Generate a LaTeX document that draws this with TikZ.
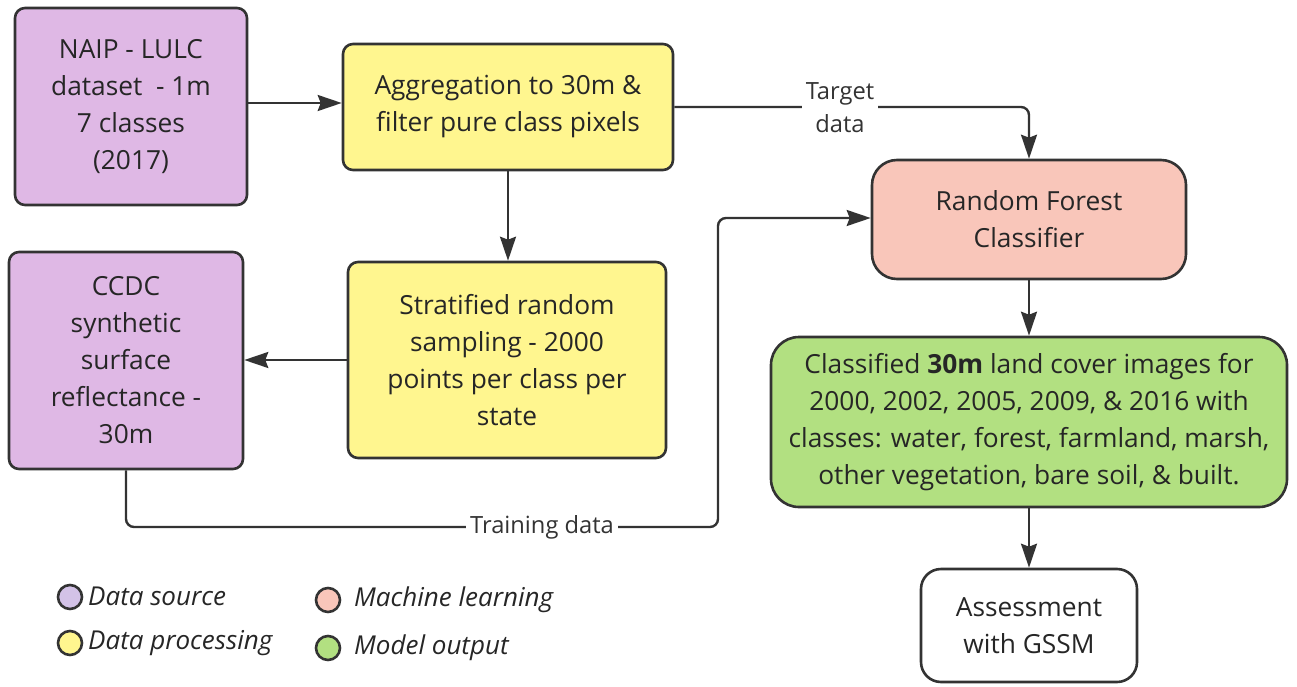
\documentclass[tikz,border=0pt]{standalone}
\usepackage{fontspec}
\setmainfont{Open Sans}
\usetikzlibrary{arrows.meta}
\definecolor{cpurple}{HTML}{DFB8E5}
\definecolor{cyellow}{HTML}{FFF68F}
\definecolor{cpink}{HTML}{F9C6BA}
\definecolor{cgreen}{HTML}{B2E081}
\definecolor{lpurple}{HTML}{D3C2E7}
\definecolor{cline}{HTML}{333333}
\begin{document}
\begin{tikzpicture}[x=1pt,y=-1pt,
  box/.style={draw=cline,line width=2.6pt,align=center,inner sep=0pt,
    font=\fontsize{26.3}{37}\selectfont,text=black!85},
  conn/.style={draw=cline,line width=2.4pt,rounded corners=8pt},
  arr/.style={conn,-{Stealth[length=24pt,width=16pt,inset=3pt]}},
  lbl/.style={fill=white,inner sep=4pt,align=center,font=\fontsize{23.7}{33}\selectfont,text=black!80},
  legdot/.style={circle,draw=cline,line width=2.6pt,minimum size=24pt,inner sep=0pt},
  legtxt/.style={anchor=west,inner sep=0pt,font=\fontsize{26}{30}\selectfont\itshape,text=black!85}]
\useasboundingbox (0,0) rectangle (1297,687);
% boxes
\node[box,fill=cpurple,rounded corners=10pt,minimum width=232pt,minimum height=197pt] (naip) at (131,106.5)
  {NAIP - LULC\\dataset \ - 1m\\7 classes\\(2017)};
\node[box,fill=cyellow,rounded corners=10pt,minimum width=330pt,minimum height=126pt] (agg) at (508,107)
  {Aggregation to 30m \&\\filter pure class pixels};
\node[box,fill=cpink,rounded corners=25pt,minimum width=314pt,minimum height=119pt] (rf) at (1029,219.5)
  {Random Forest\\Classifier};
\node[box,fill=cpurple,rounded corners=10pt,minimum width=234pt,minimum height=217pt] (ccdc) at (126,360.5)
  {CCDC\\synthetic\\surface\\reflectance -\\30m};
\node[box,fill=cyellow,rounded corners=10pt,minimum width=318pt,minimum height=196pt] (strat) at (507,360)
  {Stratified random\\sampling - 2000\\points per class per\\state};
\node[box,fill=cgreen,rounded corners=28pt,minimum width=516pt,minimum height=170pt] (out) at (1029,422)
  {Classified \textbf{30m} land cover images for\\2000, 2002, 2005, 2009, \& 2016 with\\classes: water, forest, farmland, marsh,\\other vegetation, bare soil, \& built.};
\node[box,fill=white,rounded corners=20pt,minimum width=216pt,minimum height=113pt] (gssm) at (1029,625.5)
  {Assessment\\with GSSM};
% connectors
\draw[arr] (naip.east |- 0,103) -- (agg.west |- 0,103);
\draw[arr] (agg.south) -- (strat.north -| agg.south);
\coordinate (tcorner) at (rf.north |- agg.east);
\draw[arr] (agg.east) -- (tcorner) -- (rf.north);
\node[lbl] (tlabel) at (840,108) {Target\\data};
\draw[arr] (strat.west) -- (ccdc.east |- strat.west);
\coordinate (c1) at (ccdc.south |- 0,527);
\coordinate (c2) at (718,527);
\coordinate (c3) at (718,218);
\draw[arr] (ccdc.south) -- (c1) -- (c2) -- (c3) -- (rf.west |- c3);
\node[lbl] (trlabel) at (542,527) {Training data};
\draw[arr] (rf.south) -- (out.north);
\draw[arr] (out.south) -- (gssm.north);
% legend
\node[legdot,fill=lpurple] (d1) at (70,597) {};
\node[legtxt] (t1) at (88,596) {Data source};
\node[legdot,fill=cyellow] (d2) at (70,643) {};
\node[legtxt] (t2) at (88,643) {Data processing};
\node[legdot,fill=cpink] (d3) at (328,600) {};
\node[legtxt] (t3) at (354,600) {Machine learning};
\node[legdot,fill=cgreen] (d4) at (328,648) {};
\node[legtxt] (t4) at (354,648) {Model output};
\end{tikzpicture}
\end{document}
